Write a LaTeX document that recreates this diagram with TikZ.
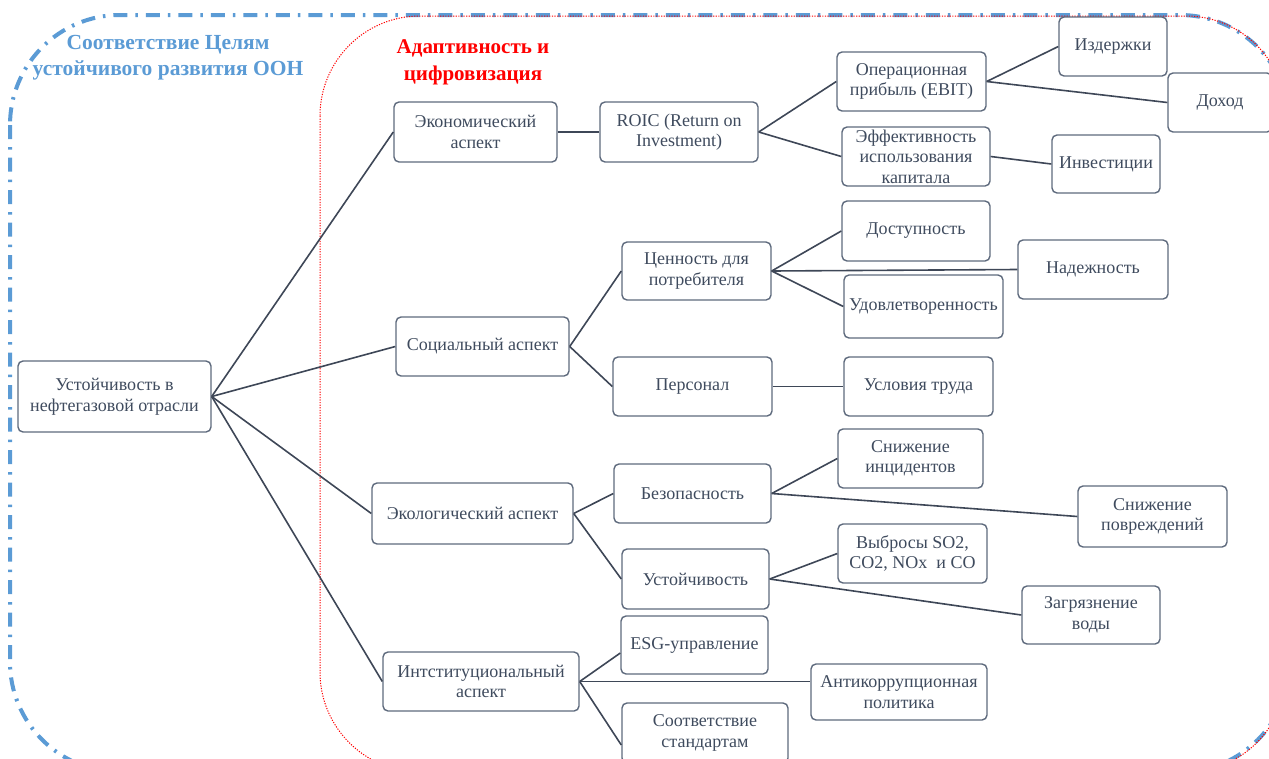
\documentclass[tikz,border=0pt]{standalone}
\usepackage{fontspec}
\setmainfont{Liberation Serif}
\usepackage{tikz}
\usetikzlibrary{positioning}

\definecolor{boxline}{HTML}{5E6A7D}
\definecolor{boxtext}{HTML}{3F4B5E}
\definecolor{linkcol}{HTML}{3E4757}
\definecolor{goalblue}{HTML}{5B9BD5}

\begin{document}
\begin{tikzpicture}[
x=1pt,y=-1pt,
box/.style={rectangle,rounded corners=5pt,draw=boxline,line width=1.4pt,fill=white,text=boxtext,align=center,inner sep=1pt,font=\fontsize{18}{20.5}\selectfont},
link/.style={draw=linkcol,line width=1.6pt},
goalframe/.style={draw=goalblue,line width=4pt,rounded corners=110pt,dash pattern=on 14pt off 8pt on 2.5pt off 8pt},
adaptframe/.style={draw=red,line width=1pt,rounded corners=100pt,dash pattern=on 1.2pt off 1.4pt},
goaltitle/.style={text=goalblue,align=center,font=\fontsize{21.5}{26}\selectfont\bfseries},
adapttitle/.style={text=red,align=center,font=\fontsize{21}{27}\selectfont\bfseries}
]
\useasboundingbox (0,0) rectangle (1269,758);
\clip (0,0) rectangle (1269,758);

% frames
\draw[goalframe] (10,15) rectangle (1290,772);
\draw[adaptframe] (320,16) rectangle (1286,772);
\node[goaltitle] (goal) at (168,58) {Соответствие Целям\\устойчивого развития ООН};
\node[adapttitle] (adapt) at (473,62) {Адаптивность и\\цифровизация};

% root and aspects
\node[box,minimum width=193,minimum height=71] (root) at (114.5,396.5) {Устойчивость в\\нефтегазовой отрасли};
\node[box,minimum width=163,minimum height=60] (econ) at (475.5,132) {Экономический\\аспект};
\node[box,minimum width=173,minimum height=59] (social) at (482.5,346.5) {Социальный аспект};
\node[box,minimum width=201,minimum height=61] (eco) at (472.5,513.5) {Экологический аспект};
\node[box,minimum width=196,minimum height=59] (inst) at (481,681.5) {Интституциональный\\аспект};

% economic branch
\node[box,minimum width=158,minimum height=60] (roic) at (679,132) {ROIC (Return on\\Investment)};
\node[box,minimum width=149,minimum height=59] (ebit) at (911.5,81.5) {Операционная\\прибыль (EBIT)};
\node[box,minimum width=148,minimum height=59] (capeff) at (916,156.5) {Эффективность\\использования\\капитала};
\node[box,minimum width=108,minimum height=59] (costs) at (1113,46.5) {Издержки};
\node[box,minimum width=104,minimum height=59] (income) at (1220,102.5) {Доход};
\node[box,minimum width=108,minimum height=58] (invest) at (1106,164) {Инвестиции};

% social branch
\node[box,minimum width=149,minimum height=58] (value) at (696.5,271) {Ценность для\\потребителя};
\node[box,minimum width=159,minimum height=59] (staff) at (692.5,386.5) {Персонал};
\node[box,minimum width=148,minimum height=60] (access) at (916,231) {Доступность};
\node[box,minimum width=150,minimum height=59] (reliab) at (1093,269.5) {Надежность};
\node[box,minimum width=159,minimum height=63] (satisf) at (923.5,306.5) {Удовлетворенность};
\node[box,minimum width=149,minimum height=59] (labour) at (918.5,386.5) {Условия труда};

% ecological branch
\node[box,minimum width=157,minimum height=59] (safety) at (692.5,493.5) {Безопасность};
\node[box,minimum width=147,minimum height=60] (sustain) at (695.5,579) {Устойчивость};
\node[box,minimum width=145,minimum height=59] (incid) at (910.5,458.5) {Снижение\\инцидентов};
\node[box,minimum width=149,minimum height=61] (damage) at (1152.5,516.5) {Снижение\\повреждений};
\node[box,minimum width=149,minimum height=59] (emiss) at (912.5,553.5) {Выбросы SO2,\\CO2, NOx~ и CO};
\node[box,minimum width=138,minimum height=58] (water) at (1091,615) {Загрязнение\\воды};

% institutional branch
\node[box,minimum width=147,minimum height=58] (esg) at (694.5,645) {ESG-управление};
\node[box,minimum width=176,minimum height=56] (anticor) at (899,692) {Антикоррупционная\\политика};
\node[box,minimum width=166,minimum height=60] (standard) at (705,733) {Соответствие\\стандартам};

% connectors
\foreach \t in {econ,social,eco,inst}
    \draw[link] (root.east) -- (\t.west);
\draw[link] (econ.east) -- (roic.west);
\draw[link] (roic.east) -- (ebit.west);
\draw[link] (roic.east) -- (capeff.west);
\draw[link] (ebit.east) -- (costs.west);
\draw[link] (ebit.east) -- (income.west);
\draw[link] (capeff.east) -- (invest.west);
\draw[link] (social.east) -- (value.west);
\draw[link] (social.east) -- (staff.west);
\foreach \t in {access,reliab,satisf}
    \draw[link] (value.east) -- (\t.west);
\draw[link] (staff.east) -- (labour.west);
\draw[link] (eco.east) -- (safety.west);
\draw[link] (eco.east) -- (sustain.west);
\draw[link] (safety.east) -- (incid.west);
\draw[link] (safety.east) -- (damage.west);
\draw[link] (sustain.east) -- (emiss.west);
\draw[link] (sustain.east) -- (water.west);
\draw[link] (inst.east) -- ([yshift=-8pt]esg.west);
\draw[link] (inst.east) -- (inst.east -| anticor.west);
\draw[link] (inst.east) -- ([yshift=-12pt]standard.west);
\end{tikzpicture}
\end{document}
